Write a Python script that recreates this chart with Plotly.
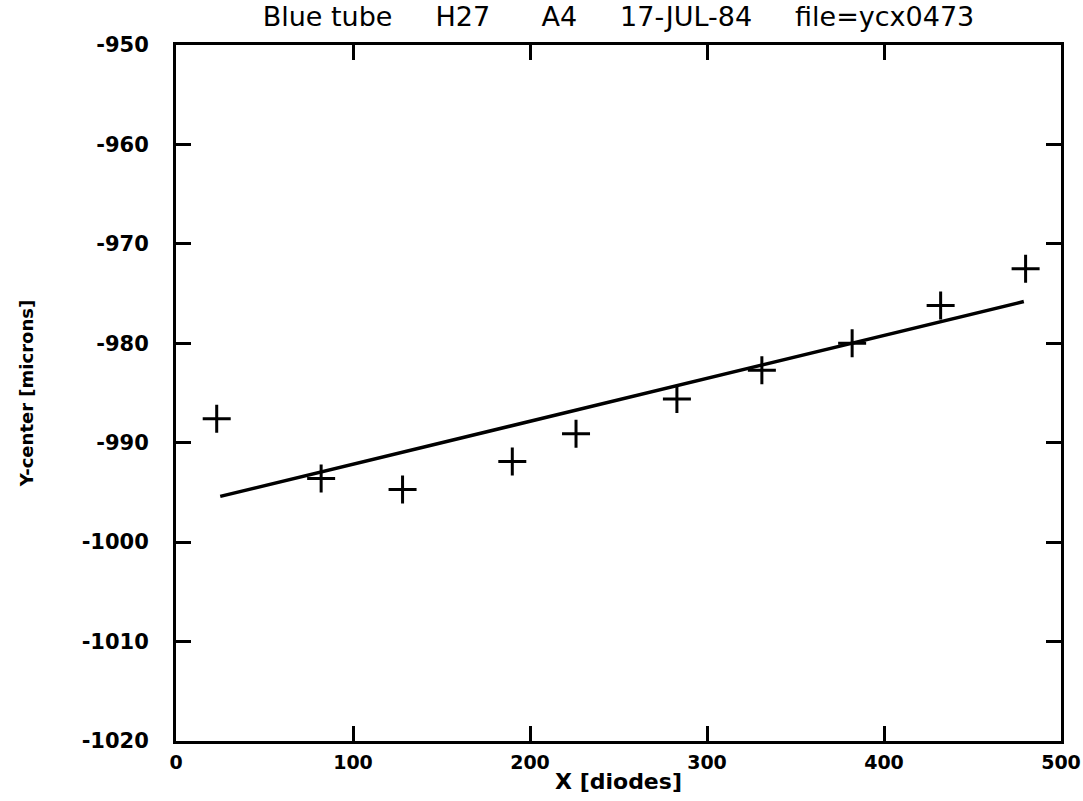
import plotly.graph_objects as go

# Measured points (crosses)
x_diodes = [23, 82, 128, 190, 226, 283, 331, 382, 432, 480]
y_center = [-987.6, -993.6, -994.7, -991.9, -989.1, -985.6, -982.7, -980.0, -976.2, -972.5]

# Fitted straight line (end points)
fit_x = [25, 479]
fit_y = [-995.4, -975.8]

x_ticks = [0, 100, 200, 300, 400, 500]
y_ticks = [-950, -960, -970, -980, -990, -1000, -1010, -1020]

title_text = "Blue tube     H27      A4     17-JUL-84     file=ycx0473"

font_family = "DejaVu Sans"

fig = go.Figure()
fig.add_trace(go.Scatter(
    x=fit_x, y=fit_y, mode="lines",
    line=dict(color="black", width=3.5),
    showlegend=False, hoverinfo="skip"))
fig.add_trace(go.Scatter(
    x=x_diodes, y=y_center, mode="markers",
    marker=dict(symbol="cross-thin", size=20, line=dict(color="black", width=3)),
    showlegend=False))

fig.update_layout(
    width=1083, height=801,
    paper_bgcolor="white", plot_bgcolor="white",
    margin=dict(l=176, r=22, t=45, b=60),
    font=dict(family=font_family, color="black", size=18),
    title=dict(text=title_text, x=0.5, xref="paper", xanchor="center",
               y=1 - 17 / 801, yref="container", yanchor="middle",
               font=dict(size=27, family=font_family, color="black")),
)
fig.update_xaxes(
    range=[0, 500], tickvals=x_ticks, ticktext=[str(v) for v in x_ticks],
    showgrid=False, zeroline=False, automargin=False,
    showline=True, linecolor="black", linewidth=3, mirror="ticks",
    ticks="inside", ticklen=15, tickwidth=2.5, tickcolor="black",
    tickfont=dict(size=19, family=font_family, weight="bold"),
    ticklabelstandoff=2, ticklabeloverflow="allow",
    title=dict(text="X [diodes]", font=dict(size=22, family=font_family, weight="bold"), standoff=2),
)
fig.update_yaxes(
    range=[-1020, -950], tickvals=y_ticks, ticktext=[str(v) for v in y_ticks],
    showgrid=False, zeroline=False, automargin=False,
    showline=True, linecolor="black", linewidth=3, mirror="ticks",
    ticks="inside", ticklen=15, tickwidth=2.5, tickcolor="black",
    tickfont=dict(size=21, family=font_family, weight="bold"),
    ticklabelstandoff=20,
    title=dict(text="Y-center [microns]", font=dict(size=18, family=font_family, weight="bold"),
               standoff=44),
)

fig.write_html("out.html", config={"displayModeBar": False},
               post_script="document.body.style.margin='0';document.body.style.overflow='hidden';")
